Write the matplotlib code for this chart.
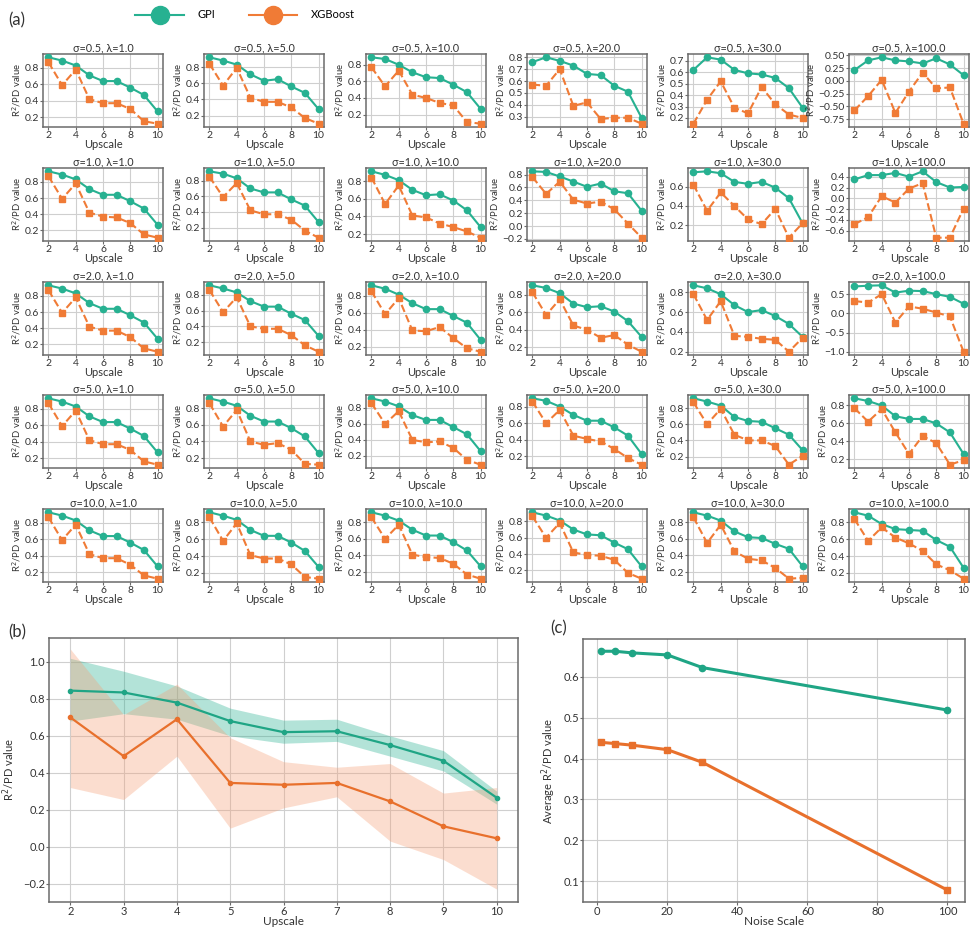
import numpy as np
import matplotlib
matplotlib.use("Agg")
import matplotlib.pyplot as plt
from matplotlib.lines import Line2D
from matplotlib.ticker import MultipleLocator

plt.rcParams['font.family'] = ['Lato', 'DejaVu Sans']

# ---------------- data ----------------
upscale = [2, 3, 4, 5, 6, 7, 8, 9, 10]
sigmas = [0.5, 1.0, 2.0, 5.0, 10.0]
lambdas = [1.0, 5.0, 10.0, 20.0, 30.0, 100.0]

# one row per lambda (1, 5, 10, 20, 30, 100), one column per upscale factor
gpi_sigma_0_5 = [
    [0.93, 0.89, 0.83, 0.71, 0.64, 0.64, 0.56, 0.47, 0.27],
    [0.92, 0.88, 0.83, 0.71, 0.63, 0.65, 0.56, 0.48, 0.28],
    [0.89, 0.87, 0.80, 0.71, 0.65, 0.64, 0.56, 0.47, 0.27],
    [0.76, 0.80, 0.77, 0.73, 0.66, 0.65, 0.56, 0.51, 0.29],
    [0.62, 0.73, 0.71, 0.62, 0.59, 0.58, 0.55, 0.46, 0.29],
    [0.21, 0.40, 0.46, 0.40, 0.38, 0.34, 0.44, 0.32, 0.11],
]
xgb_sigma_0_5 = [
    [0.87, 0.59, 0.78, 0.42, 0.37, 0.37, 0.30, 0.15, 0.12],
    [0.84, 0.57, 0.79, 0.42, 0.37, 0.37, 0.30, 0.17, 0.10],
    [0.77, 0.54, 0.73, 0.44, 0.40, 0.34, 0.31, 0.11, 0.09],
    [0.57, 0.56, 0.70, 0.39, 0.42, 0.28, 0.29, 0.29, 0.24],
    [0.15, 0.36, 0.52, 0.29, 0.24, 0.47, 0.32, 0.23, 0.20],
    [-0.58, -0.30, 0.02, -0.63, -0.21, 0.16, -0.15, -0.13, -0.84],
]
gpi_sigma_1 = [
    [0.93, 0.89, 0.83, 0.71, 0.64, 0.64, 0.56, 0.47, 0.27],
    [0.92, 0.89, 0.83, 0.70, 0.65, 0.65, 0.56, 0.48, 0.27],
    [0.91, 0.87, 0.81, 0.70, 0.64, 0.65, 0.58, 0.47, 0.28],
    [0.85, 0.84, 0.77, 0.69, 0.61, 0.66, 0.54, 0.51, 0.24],
    [0.75, 0.76, 0.74, 0.65, 0.63, 0.65, 0.59, 0.48, 0.22],
    [0.35, 0.43, 0.43, 0.47, 0.40, 0.50, 0.30, 0.20, 0.21],
]
xgb_sigma_1 = [
    [0.87, 0.59, 0.78, 0.42, 0.37, 0.36, 0.29, 0.15, 0.11],
    [0.85, 0.59, 0.77, 0.42, 0.37, 0.37, 0.30, 0.16, 0.07],
    [0.84, 0.54, 0.75, 0.41, 0.39, 0.32, 0.28, 0.23, 0.16],
    [0.76, 0.50, 0.69, 0.41, 0.35, 0.38, 0.26, 0.04, -0.18],
    [0.62, 0.35, 0.54, 0.40, 0.26, 0.21, 0.37, 0.07, 0.22],
    [-0.48, -0.35, 0.04, -0.08, 0.18, 0.28, -0.73, -0.73, -0.19],
]
gpi_sigma_2 = [
    [0.93, 0.89, 0.83, 0.71, 0.64, 0.64, 0.56, 0.47, 0.27],
    [0.92, 0.88, 0.83, 0.72, 0.65, 0.65, 0.56, 0.48, 0.28],
    [0.92, 0.88, 0.81, 0.71, 0.64, 0.64, 0.56, 0.48, 0.28],
    [0.91, 0.88, 0.82, 0.70, 0.66, 0.67, 0.61, 0.50, 0.32],
    [0.87, 0.84, 0.78, 0.67, 0.60, 0.62, 0.56, 0.48, 0.35],
    [0.70, 0.72, 0.73, 0.54, 0.59, 0.58, 0.50, 0.43, 0.25],
]
xgb_sigma_2 = [
    [0.87, 0.59, 0.78, 0.42, 0.37, 0.37, 0.29, 0.15, 0.11],
    [0.86, 0.58, 0.77, 0.40, 0.37, 0.37, 0.29, 0.16, 0.08],
    [0.85, 0.58, 0.77, 0.39, 0.38, 0.43, 0.30, 0.18, 0.14],
    [0.83, 0.57, 0.75, 0.45, 0.40, 0.31, 0.34, 0.23, 0.15],
    [0.78, 0.52, 0.71, 0.36, 0.35, 0.33, 0.32, 0.20, 0.34],
    [0.32, 0.28, 0.50, -0.24, 0.18, 0.12, 0.02, -0.08, -1.00],
]
gpi_sigma_5 = [
    [0.93, 0.89, 0.83, 0.71, 0.64, 0.64, 0.56, 0.47, 0.27],
    [0.92, 0.88, 0.83, 0.71, 0.64, 0.64, 0.56, 0.46, 0.26],
    [0.92, 0.88, 0.82, 0.71, 0.65, 0.65, 0.56, 0.47, 0.26],
    [0.90, 0.87, 0.80, 0.70, 0.63, 0.63, 0.55, 0.45, 0.23],
    [0.92, 0.88, 0.83, 0.69, 0.64, 0.63, 0.55, 0.47, 0.28],
    [0.88, 0.85, 0.80, 0.68, 0.65, 0.65, 0.60, 0.50, 0.26],
]
xgb_sigma_5 = [
    [0.87, 0.59, 0.78, 0.42, 0.37, 0.37, 0.30, 0.16, 0.12],
    [0.86, 0.58, 0.78, 0.40, 0.36, 0.38, 0.30, 0.13, 0.12],
    [0.86, 0.60, 0.76, 0.40, 0.37, 0.38, 0.30, 0.15, 0.09],
    [0.86, 0.60, 0.76, 0.45, 0.41, 0.38, 0.29, 0.18, 0.10],
    [0.87, 0.60, 0.79, 0.47, 0.40, 0.40, 0.33, 0.10, 0.21],
    [0.77, 0.62, 0.76, 0.50, 0.26, 0.46, 0.38, 0.14, 0.19],
]
gpi_sigma_10 = [
    [0.93, 0.89, 0.83, 0.71, 0.64, 0.64, 0.56, 0.47, 0.27],
    [0.92, 0.88, 0.83, 0.71, 0.64, 0.64, 0.56, 0.46, 0.27],
    [0.92, 0.88, 0.82, 0.71, 0.64, 0.64, 0.56, 0.46, 0.27],
    [0.91, 0.87, 0.81, 0.70, 0.64, 0.63, 0.54, 0.46, 0.25],
    [0.92, 0.88, 0.82, 0.69, 0.62, 0.61, 0.54, 0.48, 0.27],
    [0.92, 0.88, 0.78, 0.72, 0.71, 0.70, 0.59, 0.51, 0.26],
]
xgb_sigma_10 = [
    [0.87, 0.59, 0.78, 0.42, 0.37, 0.37, 0.29, 0.16, 0.12],
    [0.86, 0.58, 0.79, 0.41, 0.37, 0.37, 0.30, 0.15, 0.13],
    [0.86, 0.60, 0.77, 0.41, 0.38, 0.37, 0.30, 0.17, 0.12],
    [0.86, 0.60, 0.78, 0.42, 0.39, 0.38, 0.33, 0.17, 0.10],
    [0.86, 0.55, 0.77, 0.45, 0.36, 0.34, 0.25, 0.12, 0.13],
    [0.84, 0.58, 0.74, 0.62, 0.55, 0.46, 0.30, 0.23, 0.13],
]

gpi_rows = [gpi_sigma_0_5, gpi_sigma_1, gpi_sigma_2, gpi_sigma_5, gpi_sigma_10]
xgb_rows = [xgb_sigma_0_5, xgb_sigma_1, xgb_sigma_2, xgb_sigma_5, xgb_sigma_10]

# (b) mean over all noise settings, with spread band
gpi_mean = [0.845, 0.835, 0.78, 0.68, 0.62, 0.625, 0.55, 0.465, 0.265]
gpi_low = [0.68, 0.72, 0.69, 0.60, 0.56, 0.57, 0.49, 0.41, 0.23]
gpi_high = [1.02, 0.95, 0.87, 0.75, 0.685, 0.69, 0.60, 0.52, 0.30]
xgb_mean = [0.70, 0.49, 0.69, 0.345, 0.335, 0.345, 0.245, 0.11, 0.045]
xgb_low = [0.32, 0.255, 0.49, 0.10, 0.21, 0.27, 0.03, -0.07, -0.23]
xgb_high = [1.07, 0.715, 0.88, 0.59, 0.46, 0.43, 0.45, 0.29, 0.32]

# (c) average score versus noise scale
noise_scale = [1, 5, 10, 20, 30, 100]
gpi_avg = [0.663, 0.663, 0.659, 0.654, 0.623, 0.519]
xgb_avg = [0.440, 0.437, 0.433, 0.422, 0.391, 0.078]

# ---------------- style ----------------
C_GPI = "#27b191"
C_XGB = "#f07b36"
C_GPI_DARK = "#1fa585"
C_XGB_DARK = "#e8702c"
SPINE = "#6b6b6b"
GRID = "#cfcfcf"
TXT = "#333333"

# y tick spacing for the small panels whose range needs a finer/coarser step
tick_step = {(0, 3): 0.1, (0, 4): 0.1, (0, 5): 0.25, (2, 5): 0.5}

W, H = 980, 934
fig = plt.figure(figsize=(W / 100, H / 100), dpi=100)


def px_axes(left, top, right, bottom):
    return fig.add_axes([left / W, 1 - bottom / H, (right - left) / W, (bottom - top) / H])


def style_axes(ax, fs):
    ax.grid(True, color=GRID, linewidth=0.8)
    ax.set_axisbelow(True)
    for s in ax.spines.values():
        s.set_color(SPINE)
        s.set_linewidth(1.1)
    ax.tick_params(colors=TXT, labelsize=fs, length=2.0, width=0.8, pad=1.0, color=SPINE)


col_left = [43, 204, 366, 527, 688, 849]
row_top = [54, 168, 282, 395, 509]
ax_w, ax_h = 120, 73

for r, sig in enumerate(sigmas):
    for c, lam in enumerate(lambdas):
        ax = px_axes(col_left[c], row_top[r], col_left[c] + ax_w, row_top[r] + ax_h)
        style_axes(ax, 7.5)
        ax.plot(upscale, gpi_rows[r][c], color=C_GPI, marker="o", markersize=4.5,
                linewidth=1.5, zorder=3)
        ax.plot(upscale, xgb_rows[r][c], color=C_XGB, marker="s", markersize=4.5,
                linewidth=1.5, linestyle="--", zorder=3)
        ax.set_xticks([2, 4, 6, 8, 10])
        ax.yaxis.set_major_locator(MultipleLocator(tick_step.get((r, c), 0.2)))
        ax.set_title(f"σ={sig}, λ={lam}", fontsize=7.8, color=TXT, pad=2)
        ax.set_xlabel("Upscale", fontsize=8, color=TXT, labelpad=-1)
        ax.set_ylabel("R$^2$/PD value", fontsize=6.8, color=TXT, labelpad=1)

fig.text(8 / W, 1 - 20 / H, "(a)", fontsize=12, color=TXT, va="center")

handles = [
    Line2D([], [], color=C_GPI, marker="o", markersize=13, linewidth=1.5, label="GPI"),
    Line2D([], [], color=C_XGB, marker="o", markersize=13, linewidth=1.5, label="XGBoost"),
]
fig.legend(handles=handles, loc="center", bbox_to_anchor=(245 / W, 1 - 15 / H), ncol=2,
           frameon=False, fontsize=8, handlelength=4.4, columnspacing=3.0, handletextpad=1.2)

# ---------------- (b) ----------------
axb = px_axes(49, 638, 518, 902)
style_axes(axb, 8)
axb.fill_between(upscale, gpi_low, gpi_high, color=C_GPI, alpha=0.35, linewidth=0)
axb.fill_between(upscale, xgb_low, xgb_high, color="#f6a077", alpha=0.35, linewidth=0)
axb.plot(upscale, gpi_mean, color=C_GPI_DARK, marker="o", markersize=3, linewidth=1.6)
axb.plot(upscale, xgb_mean, color=C_XGB_DARK, marker="o", markersize=3, linewidth=1.6)
axb.set_xlim(1.6, 10.4)
axb.set_ylim(-0.30, 1.13)
axb.set_xticks(upscale)
axb.set_yticks([-0.2, 0.0, 0.2, 0.4, 0.6, 0.8, 1.0])
axb.set_xlabel("Upscale", fontsize=8.5, color=TXT, labelpad=-1)
axb.set_ylabel("R$^2$/PD value", fontsize=8, color=TXT)
fig.text(8 / W, 1 - 632 / H, "(b)", fontsize=12, color=TXT, va="center")

# ---------------- (c) ----------------
axc = px_axes(583, 639, 965, 902)
style_axes(axc, 8)
axc.plot(noise_scale, gpi_avg, color=C_GPI_DARK, marker="o", markersize=4.5, linewidth=2.2)
axc.plot(noise_scale, xgb_avg, color=C_XGB_DARK, marker="s", markersize=4.5, linewidth=2.2)
axc.set_xlim(-4.1, 105)
axc.set_ylim(0.049, 0.693)
axc.set_xticks([0, 20, 40, 60, 80, 100])
axc.set_yticks([0.1, 0.2, 0.3, 0.4, 0.5, 0.6])
axc.set_xlabel("Noise Scale", fontsize=8.5, color=TXT, labelpad=-1)
axc.set_ylabel("Average R$^2$/PD value", fontsize=8, color=TXT)
fig.text(550 / W, 1 - 628 / H, "(c)", fontsize=12, color=TXT, va="center")

fig.savefig("out.png", dpi=100)
